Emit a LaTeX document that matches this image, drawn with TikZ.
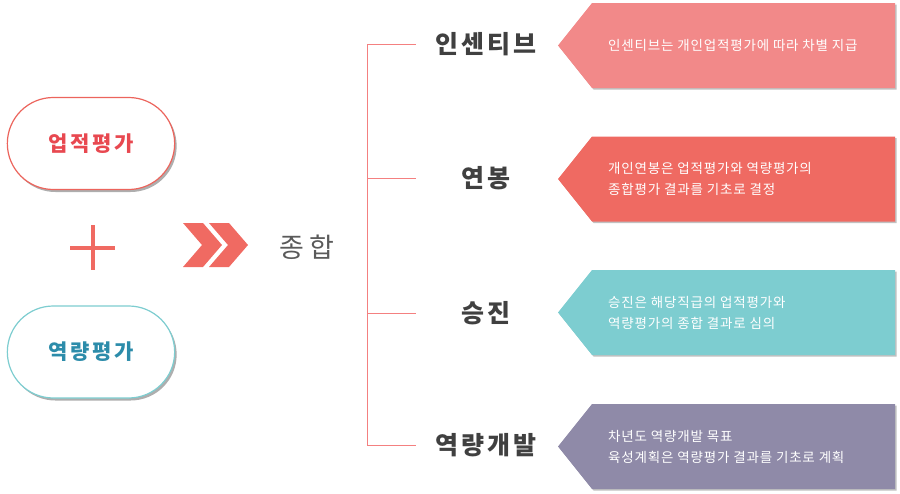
\documentclass[tikz,border=0pt]{standalone}
\usepackage{fontspec}
\setmainfont{Noto Sans CJK KR}
\newfontfamily\widefont[LetterSpace=13]{Noto Sans CJK KR}
\newfontfamily\mergefont[LetterSpace=22]{Noto Sans CJK KR}
\newfontfamily\notefont[LetterSpace=6]{Noto Sans CJK KR}
\usepackage{tikz}
\usetikzlibrary{positioning,calc,shadows,shapes.misc}
\definecolor{EvalRed}{RGB}{232,72,80}
\definecolor{PillRed}{RGB}{236,100,92}
\definecolor{PlusRed}{RGB}{240,106,98}
\definecolor{EvalTeal}{RGB}{44,140,170}
\definecolor{PillTeal}{RGB}{125,205,208}
\definecolor{BranchPink}{RGB}{244,128,128}
\definecolor{LabelGray}{RGB}{64,64,64}
\definecolor{MergeGray}{RGB}{90,90,90}
\definecolor{IncentivePink}{RGB}{242,137,137}
\definecolor{SalaryRed}{RGB}{239,106,98}
\definecolor{PromoTeal}{RGB}{125,205,208}
\definecolor{DevPurple}{RGB}{143,138,168}

\begin{document}
\begin{tikzpicture}[x=1pt,y=-1pt,
  evalpill/.style={rounded rectangle,draw,line width=1.2pt,fill=white,
    minimum width=174pt,minimum height=92pt,
    font=\widefont\fontsize{21}{24}\selectfont\bfseries,
    drop shadow={shadow xshift=2pt,shadow yshift=-2.5pt,opacity=0.45,
      draw=none,fill=black!70}},
  branchlabel/.style={minimum width=140pt,inner sep=0pt,text=LabelGray,
    font=\widefont\fontsize{25}{28}\selectfont\bfseries},
  notebox/.style={drop shadow={shadow xshift=1.5pt,shadow yshift=-1.5pt,
    opacity=0.35,draw=none,fill=black!70}},
  notetext/.style={anchor=west,align=left,text=white,inner sep=0pt,
    font=\notefont\fontsize{13.5}{21}\selectfont}]
  \useasboundingbox (0,0) rectangle (900,493);

  % two evaluations
  \node[evalpill,draw=PillRed,text=EvalRed] (perf) at (91,143.5) {업적평가};
  \node[evalpill,draw=PillTeal,text=EvalTeal] (comp) at (91,352) {역량평가};
  \draw[PlusRed,line width=4pt] (70,248) -- (115,248) (92.5,225) -- (92.5,270);

  % chevrons and merge
  \foreach \dx in {0,26}
    \fill[PlusRed,xshift=\dx] (183,223) -- (203,223) -- (222,245) -- (203,267)
      -- (183,267) -- (202,245) -- cycle;
  \node[text=MergeGray,font=\mergefont\fontsize{27}{30}\selectfont] (merge) at (307,247) {종합};

  % branches
  \node[branchlabel] (inc) at (486,44) {인센티브};
  \node[branchlabel] (sal) at (486,178) {연봉};
  \node[branchlabel] (pro) at (486,313) {승진};
  \node[branchlabel] (dev) at (486,445) {역량개발};
  \coordinate (trunk) at (367,44);
  \draw[BranchPink,line width=1pt] (inc.west) -- (trunk) |- (dev.west);
  \foreach \n in {sal,pro}
    \draw[BranchPink,line width=1pt] (\n.west) -- (\n.west -| trunk);

  % notes
  \foreach \yc/\col/\name/\txt in {
      45.5/IncentivePink/incnote/{인센티브는 개인업적평가에 따라 차별 지급},
      179/SalaryRed/salnote/{개인연봉은 업적평가와 역량평가의\\종합평가 결과를 기초로 결정},
      312.5/PromoTeal/pronote/{승진은 해당직급의 업적평가와\\역량평가의 종합 결과로 심의},
      446.5/DevPurple/devnote/{차년도 역량개발 목표\\육성계획은 역량평가 결과를 기초로 계획}} {
    \fill[notebox,\col] (558,\yc) -- (592,\yc-42.5) -- (895,\yc-42.5)
      -- (895,\yc+42.5) -- (592,\yc+42.5) -- cycle;
    \node[notetext] (\name) at (608,\yc) {\txt};
  }
\end{tikzpicture}
\end{document}
